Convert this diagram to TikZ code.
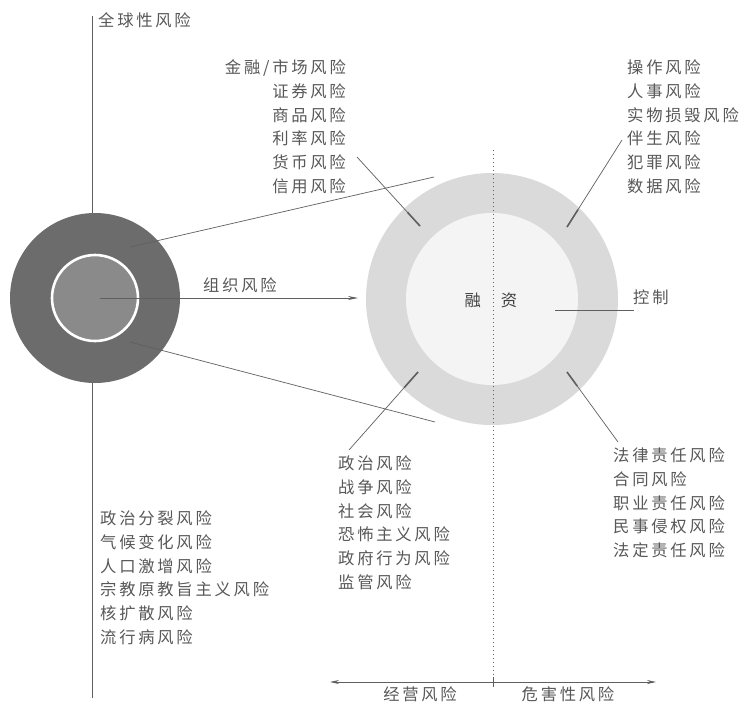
\documentclass[tikz,border=0pt]{standalone}
\usepackage{fontspec}
\setmainfont{Noto Sans CJK SC}[LetterSpace=17]
\usetikzlibrary{arrows.meta,calc}
\definecolor{txtc}{RGB}{88,88,88}
\definecolor{linec}{RGB}{95,95,95}
\definecolor{darkc}{RGB}{108,108,108}
\definecolor{midc}{RGB}{138,138,138}
\definecolor{ringc}{RGB}{218,218,218}
\definecolor{innerc}{RGB}{244,244,244}
\begin{document}
\begin{tikzpicture}[x=1pt,y=-1pt,
  grp/.style={inner sep=0pt, text=txtc, font=\fontsize{16.3}{23.8}\selectfont},
  lbl/.style={inner sep=0pt, text=txtc, font=\fontsize{16.3}{20}\selectfont},
  conn/.style={draw=linec, line width=0.7pt},
  thickend/.style={draw=linec, line width=1.6pt},
  axisline/.style={draw=linec, line width=0.8pt, {Stealth[length=9pt,width=4pt]}-{Stealth[length=9pt,width=4pt]}}
]
\useasboundingbox[fill=white] (0,0) rectangle (743,705);

% global axis line (behind the circle)
\coordinate (gtop) at (92,16);
\coordinate (gbot) at (92,698);
\draw[conn] (gtop) -- (gbot);
\node[lbl, anchor=west] (global) at (98,20) {全球性风险};

% left circle
\node[circle, fill=darkc, minimum size=170pt, inner sep=0pt] (org) at (95,298) {};
\node[circle, fill=midc, draw=white, line width=2.6pt, minimum size=86pt, inner sep=0pt] (orgin) at (95,298) {};

% right circle
\node[circle, fill=ringc, minimum size=252pt, inner sep=0pt] (fin) at (492,299) {};
\node[circle, fill=innerc, minimum size=172pt, inner sep=0pt] (finin) at (492,299) {};

% dotted divider
\coordinate (dtop) at (493,150);
\coordinate (dbot) at (493,682);
\draw[draw=linec, line width=0.8pt, dash pattern=on 1.2pt off 2.8pt] (dtop) -- (dbot);

% organisational arrow
\coordinate (arrs) at (100,298);
\coordinate (arre) at (358,298);
\draw[conn, line width=0.9pt, -{Stealth[length=10pt,width=4pt]}] (arrs) -- (arre);
\node[lbl] (orglbl) at (240,285) {组织风险};

% cone lines
\coordinate (c1a) at (130,247);
\coordinate (c1b) at (434,177);
\coordinate (c2a) at (130,342);
\coordinate (c2b) at (435,422);
\draw[conn] (c1a) -- (c1b);
\draw[conn] (c2a) -- (c2b);

% centre text
\node[inner sep=0pt, text=black!75, font=\fontsize{16.3}{20}\selectfont] (rz) at (491,300) {融\hspace{20pt}资};

% control
\node[lbl, anchor=west] (ctrl) at (633,297) {控制};
\coordinate (ctls) at (555,310);
\coordinate (ctle) at (634,310);
\draw[conn, line width=1pt] (ctls) -- (ctle);

% text groups
\node[grp, anchor=north east, align=right] (tl) at (346,59.5) {金融/市场风险\\证券风险\\商品风险\\利率风险\\货币风险\\信用风险};
\node[grp, anchor=north west, align=left] (tr) at (627,59.5) {操作风险\\人事风险\\实物损毁风险\\伴生风险\\犯罪风险\\数据风险};
\node[grp, anchor=north west, align=left] (bm) at (338,455.5) {政治风险\\战争风险\\社会风险\\恐怖主义风险\\政府行为风险\\监管风险};
\node[grp, anchor=north west, align=left] (br) at (613,447.5) {法律责任风险\\合同风险\\职业责任风险\\民事侵权风险\\法定责任风险};
\node[grp, anchor=north west, align=left] (bl) at (100,510.5) {政治分裂风险\\气候变化风险\\人口激增风险\\宗教原教旨主义风险\\核扩散风险\\流行病风险};

% leader lines
\coordinate (l1a) at (357,157); \coordinate (l1b) at (420,226);
\coordinate (l2a) at (622,140); \coordinate (l2b) at (567,227);
\coordinate (l3a) at (349,450); \coordinate (l3b) at (418,372);
\coordinate (l4a) at (618,442); \coordinate (l4b) at (567,372);
\foreach \a/\b in {l1a/l1b,l2a/l2b,l3a/l3b,l4a/l4b}{
  \draw[conn] (\a) -- (\b);
  \draw[thickend] ($(\a)!0.8!(\b)$) -- (\b);
}

% bottom axis
\coordinate (axl) at (330,682);
\coordinate (axr) at (656,682);
\draw[axisline] (axl) -- (axr);
\coordinate (tk1) at (493,677);
\coordinate (tk2) at (493,687);
\draw[conn] (tk1) -- (tk2);
\node[lbl] (jy) at (420,694) {经营风险};
\node[lbl] (wh) at (568,694) {危害性风险};
\end{tikzpicture}
\end{document}
